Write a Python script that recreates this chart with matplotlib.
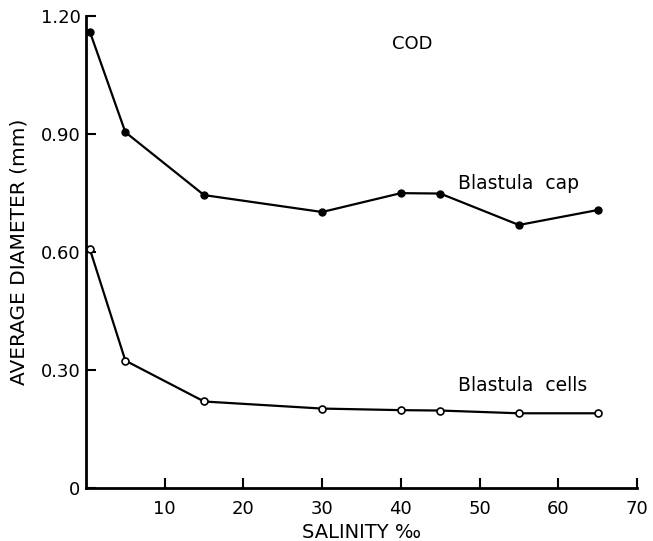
import matplotlib.pyplot as plt

salinity = [0.5, 5, 15, 30, 40, 45, 55, 65]
cap_diameter = [1.16, 0.905, 0.745, 0.702, 0.75, 0.749, 0.669, 0.707]
cells_diameter = [0.607, 0.324, 0.220, 0.202, 0.198, 0.197, 0.190, 0.190]

x_ticks = [10, 20, 30, 40, 50, 60, 70]
y_ticks = [0, 0.30, 0.60, 0.90, 1.20]
y_tick_labels = ["0", "0.30", "0.60", "0.90", "1.20"]

fig = plt.figure(figsize=(6.53, 5.41), dpi=100)
ax = fig.add_axes([0.1317, 0.098, 0.8438, 0.872])

ax.plot(salinity, cap_diameter, color="black", lw=1.6, marker="o",
        ms=5, mfc="black", mec="black", clip_on=False)
ax.plot(salinity, cells_diameter, color="black", lw=1.6, marker="o",
        ms=5, mfc="white", mec="black", mew=1.2, clip_on=False, zorder=3)

ax.set_xlim(0, 70)
ax.set_ylim(0, 1.20)
ax.set_xticks(x_ticks)
ax.set_yticks(y_ticks)
ax.set_yticklabels(y_tick_labels)

for side in ["top", "right"]:
    ax.spines[side].set_visible(False)
for side in ["left", "bottom"]:
    ax.spines[side].set_linewidth(2)

ax.tick_params(axis="x", direction="in", length=7, width=1.5,
               labelsize=13, pad=9)
ax.tick_params(axis="y", direction="in", length=7, width=1.5,
               labelsize=13, pad=4)

ax.set_xlabel("SALINITY ‰", fontsize=14, labelpad=3)
ax.set_ylabel("AVERAGE DIAMETER (mm)", fontsize=14.5, labelpad=9)

ax.text(41.4, 1.13, "COD", fontsize=13, ha="center", va="center")
ax.text(47.3, 0.775, "Blastula  cap", fontsize=13.5, ha="left", va="center")
ax.text(47.3, 0.26, "Blastula  cells", fontsize=13.5, ha="left", va="center")

fig.savefig("out.png", dpi=100)
